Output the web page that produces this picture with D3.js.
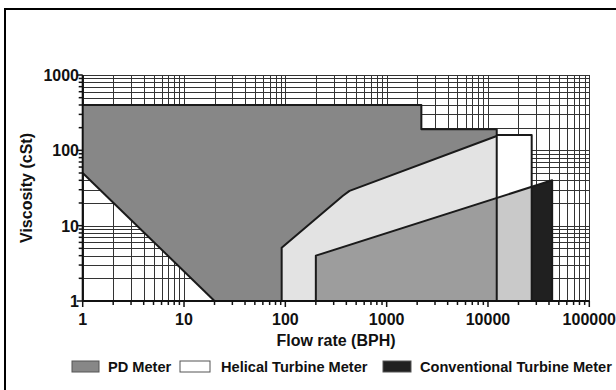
<!DOCTYPE html>
<html><head><meta charset="utf-8">
<script src="https://cdn.jsdelivr.net/npm/d3@7"></script>
<style>body{margin:0;background:#fff}svg{display:block}text{font-family:"Liberation Sans",Arial,sans-serif;font-weight:bold;fill:#111}</style>
</head><body>
<svg id="c" width="616" height="390"></svg>
<script>
// ---- data ----
const xTicks = [1, 10, 100, 1000, 10000, 100000];
const yTicks = [1, 10, 100, 1000];
const legendLabels = ["PD Meter", "Helical Turbine Meter", "Conventional Turbine Meter"];
// PD meter operating envelope
const pdFlow = [1, 2200, 2200, 12200, 12200, 20, 1];
const pdVisc = [400, 400, 190, 190, 1, 1, 50];
// Helical turbine meter (overlap with PD)
const helFlow = [92, 92, 370, 430, 12200, 12200];
const helVisc = [1, 5.1, 25, 29, 155, 1];
// Helical-only box
const helBoxFlow = [12200, 27000, 27000, 12200];
const helBoxVisc = [160, 160, 33, 23.4];
// Conventional turbine meter overlap with PD + helical
const convPdFlow = [200, 200, 12200, 12200];
const convPdVisc = [1, 4, 23.4, 1];
// Conventional overlap with helical only
const convHelFlow = [12200, 12200, 27000, 27000];
const convHelVisc = [1, 23.4, 33, 1];
// Conventional only
const convFlow = [27000, 27000, 43000, 43000];
const convVisc = [1, 33, 40, 1];

const svg = d3.select("#c");
const x = d3.scaleLog().domain([1, 100000]).range([82.7, 589.3]);
const y = d3.scaleLog().domain([1, 1000]).range([301, 75]);

// frame
svg.append("rect").attr("x", 5).attr("y", 9).attr("width", 800).attr("height", 600)
  .attr("fill", "none").attr("stroke", "#000").attr("stroke-width", 2);

// grid
const minorX = [], minorY = [];
for (let e = 0; e < 5; e++) for (let m = 1; m <= 9; m++) minorX.push(m * Math.pow(10, e));
minorX.push(100000);
for (let e = 0; e < 3; e++) for (let m = 1; m <= 9; m++) minorY.push(m * Math.pow(10, e));
minorY.push(1000);
const g = svg.append("g");
g.selectAll("line.vx").data(minorX).join("line")
  .attr("x1", d => Math.round(x(d)) + 0.5).attr("x2", d => Math.round(x(d)) + 0.5)
  .attr("y1", y(1000)).attr("y2", y(1)).attr("stroke", "#333").attr("stroke-width", 1);
g.selectAll("line.hy").data(minorY).join("line")
  .attr("y1", d => Math.round(y(d)) + 0.5).attr("y2", d => Math.round(y(d)) + 0.5)
  .attr("x1", x(1)).attr("x2", x(100000)).attr("stroke", "#333").attr("stroke-width", 1);

const line = d3.line().x(d => x(d[0])).y(d => y(d[1]));
function poly(fx, fy, fill) {
  const pts = fx.map((v, i) => [v, fy[i]]);
  return svg.append("path").attr("d", line(pts) + "Z").attr("fill", fill);
}
poly(pdFlow, pdVisc, "#878787");
poly(helFlow, helVisc, "#e3e3e3");
poly(helBoxFlow, helBoxVisc, "#ffffff");
poly(convPdFlow, convPdVisc, "#9d9d9d");
poly(convHelFlow, convHelVisc, "#c9c9c9");
poly(convFlow, convVisc, "#202020");

// outlines
const st = {stroke: "#1a1a1a", "stroke-width": 2, fill: "none", "stroke-linejoin": "round"};
function outline(fx, fy) {
  const p = svg.append("path").attr("d", line(fx.map((v, i) => [v, fy[i]])));
  Object.entries(st).forEach(([k, v]) => p.attr(k, v));
}
outline(pdFlow.slice(0, 5), pdVisc.slice(0, 5));
outline([20, 1], [1, 50]);
outline(helFlow.slice(0, 5), helVisc.slice(0, 5));
outline([12200, 27000, 27000], [160, 160, 1]);
outline([200, 200, 43000, 43000], [1, 4, 40, 1]);

// axes
const ax = svg.append("g").attr("stroke", "#111");
ax.append("line").attr("x1", x(1)).attr("x2", x(100000)).attr("y1", y(1)).attr("y2", y(1)).attr("stroke-width", 2);
ax.append("line").attr("x1", x(1)).attr("x2", x(1)).attr("y1", y(1)).attr("y2", y(1000)).attr("stroke-width", 2);
ax.selectAll("line.tx").data(minorX).join("line")
  .attr("x1", d => x(d)).attr("x2", d => x(d)).attr("y1", y(1))
  .attr("y2", d => y(1) + (xTicks.includes(d) ? 6 : 4)).attr("stroke-width", 1.5);
ax.selectAll("line.ty").data(minorY).join("line")
  .attr("y1", d => y(d)).attr("y2", d => y(d)).attr("x1", x(1))
  .attr("x2", d => x(1) - (yTicks.includes(d) ? 6 : 4)).attr("stroke-width", 1.5);

svg.selectAll("text.xl").data(xTicks).join("text")
  .attr("x", d => x(d)).attr("y", 325).attr("text-anchor", "middle")
  .attr("font-size", 16).text(d => d);
svg.selectAll("text.yl").data(yTicks).join("text")
  .attr("x", 79).attr("y", d => y(d) + 6).attr("text-anchor", "end")
  .attr("font-size", 16).text(d => d);

svg.append("text").attr("x", 336).attr("y", 346).attr("text-anchor", "middle")
  .attr("font-size", 16).text("Flow rate (BPH)");
svg.append("text").attr("transform", "translate(32,188) rotate(-90)").attr("text-anchor", "middle")
  .attr("font-size", 16).text("Viscosity (cSt)");

// legend
const legFill = ["#878787", "#ffffff", "#202020"];
const legX = [72, 180, 383];
const legW = [27, 30, 28];
const legTx = [108, 221, 420];
const leg = svg.append("g");
legendLabels.forEach((t, i) => {
  leg.append("rect").attr("x", legX[i]).attr("y", 361).attr("width", legW[i]).attr("height", 11)
    .attr("fill", legFill[i]).attr("stroke", "#555").attr("stroke-width", 1);
  leg.append("text").attr("x", legTx[i]).attr("y", 372).attr("font-size", 14.6).text(t);
});
</script>
</body></html>
